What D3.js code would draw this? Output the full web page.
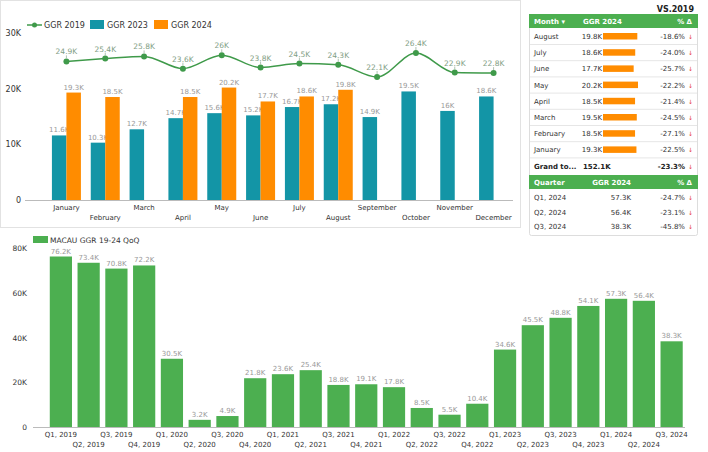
<!DOCTYPE html>
<html><head><meta charset="utf-8">
<script src="https://cdn.jsdelivr.net/npm/d3@7"></script>
<style>body{margin:0;background:#fff;font-family:"DejaVu Sans",Verdana,sans-serif;}</style>
</head><body><svg id="c" width="708" height="452"></svg>
<script>
const months = ["January","February","March","April","May","June","July","August","September","October","November","December"];
const ggr2019 = [24.9,25.4,25.8,23.6,26,23.8,24.5,24.3,22.1,26.4,22.9,22.8];
const ggr2023 = [11.6,10.3,12.7,14.7,15.6,15.2,16.7,17.2,14.9,19.5,16,18.6];
const ggr2024 = [19.3,18.5,null,18.5,20.2,17.7,18.6,19.8,null,null,null,null];
const topTicks = [0,10,20,30];

const tableMonths = ["August","July","June","May","April","March","February","January"];
const tableGGR = [19.8,18.6,17.7,20.2,18.5,19.5,18.5,19.3];
const tablePct = ["-18.6%","-24.0%","-25.7%","-22.2%","-21.4%","-24.5%","-27.1%","-22.5%"];
const grandTotal = ["Grand to...","152.1K","-23.3%"];
const quarterRows = ["Q1, 2024","Q2, 2024","Q3, 2024"];
const quarterGGR = ["57.3K","56.4K","38.3K"];
const quarterPct = ["-24.7%","-23.1%","-45.8%"];

const quarters = ["Q1, 2019","Q2, 2019","Q3, 2019","Q4, 2019","Q1, 2020","Q2, 2020","Q3, 2020","Q4, 2020","Q1, 2021","Q2, 2021","Q3, 2021","Q4, 2021","Q1, 2022","Q2, 2022","Q3, 2022","Q4, 2022","Q1, 2023","Q2, 2023","Q3, 2023","Q4, 2023","Q1, 2024","Q2, 2024","Q3, 2024"];
const qValues = [76.2,73.4,70.8,72.2,30.5,3.2,4.9,21.8,23.6,25.4,18.8,19.1,17.8,8.5,5.5,10.4,34.6,45.5,48.8,54.1,57.3,56.4,38.3];
const bottomTicks = [0,20,40,60,80];

const C19 = "#3f9a4a", C23 = "#1395a6", C24 = "#ff8c00", GREEN = "#4caf50";
const fmtK = v => (Math.round(v*10)/10) + "K";
const svg = d3.select("#c");
const F = '"DejaVu Sans",Verdana,sans-serif';

// Top panel frame
svg.append("rect").attr("x",0.5).attr("y",0.5).attr("width",520).attr("height",227).attr("fill","#fff").attr("stroke","#e2e2e2");

// ---- Top chart
const x = d3.scaleBand().domain(months).range([47,513]).paddingInner(0.25).paddingOuter(0.125);
const y = d3.scaleLinear().domain([0,30]).range([200,33]);
const bw = 14.5;
const topG = svg.append("g");
topG.selectAll(".yt").data(topTicks).join("text")
  .attr("x",21).attr("y",d=>y(d)+3).attr("text-anchor","end")
  .attr("font-size",8).attr("fill","#333").attr("font-family",F).text(d=>d===0?"0":d+"K");
topG.append("line").attr("x1",25).attr("x2",513).attr("y1",y(0)+0.5).attr("y2",y(0)+0.5).attr("stroke","#bbb");
const cx = m => x(m)+x.bandwidth()/2;
topG.selectAll(".b23").data(months).join("rect")
  .attr("x",(m)=>cx(m)-bw).attr("width",bw)
  .attr("y",(m,i)=>y(ggr2023[i])).attr("height",(m,i)=>y(0)-y(ggr2023[i])).attr("fill",C23);
topG.selectAll(".l23").data(months).join("text")
  .attr("x",m=>cx(m)-bw/2).attr("y",(m,i)=>y(ggr2023[i])-3).attr("text-anchor","middle")
  .attr("font-size",7).attr("fill","#999").attr("font-family",F).text((m,i)=>fmtK(ggr2023[i]));
const m24 = months.filter((m,i)=>ggr2024[i]!=null);
topG.selectAll(".b24").data(m24).join("rect")
  .attr("x",m=>cx(m)).attr("width",bw)
  .attr("y",m=>y(ggr2024[months.indexOf(m)])).attr("height",m=>y(0)-y(ggr2024[months.indexOf(m)])).attr("fill",C24);
topG.selectAll(".l24").data(m24).join("text")
  .attr("x",m=>cx(m)+bw/2).attr("y",m=>y(ggr2024[months.indexOf(m)])-3).attr("text-anchor","middle")
  .attr("font-size",7).attr("fill","#999").attr("font-family",F).text(m=>fmtK(ggr2024[months.indexOf(m)]));
const line = d3.line().x((d,i)=>cx(months[i])).y(d=>y(d)).curve(d3.curveMonotoneX);
topG.append("path").attr("d",line(ggr2019)).attr("fill","none").attr("stroke",C19).attr("stroke-width",1.5);
topG.selectAll(".p19").data(ggr2019).join("circle")
  .attr("cx",(d,i)=>cx(months[i])).attr("cy",d=>y(d)).attr("r",3).attr("fill",C19);
topG.selectAll(".t19").data(ggr2019).join("line")
  .attr("x1",(d,i)=>cx(months[i])).attr("x2",(d,i)=>cx(months[i]))
  .attr("y1",d=>y(d)-3).attr("y2",d=>y(d)-6).attr("stroke","#9bb59e").attr("stroke-width",0.8);
topG.selectAll(".lt19").data(ggr2019).join("text")
  .attr("x",(d,i)=>cx(months[i])).attr("y",d=>y(d)-7).attr("text-anchor","middle")
  .attr("font-size",7.5).attr("fill","#7f9e84").attr("font-family",F).text(d=>fmtK(d));
topG.selectAll(".mx").data(months).join("text")
  .attr("x",m=>cx(m)).attr("y",(m,i)=>i%2===0?210:220).attr("text-anchor","middle")
  .attr("font-size",7).attr("fill","#333").attr("font-family",F).text(m=>m);
const lg = topG.append("g");
lg.append("line").attr("x1",27).attr("x2",42).attr("y1",25).attr("y2",25).attr("stroke",C19).attr("stroke-width",1.5);
lg.append("circle").attr("cx",34.5).attr("cy",25).attr("r",2.5).attr("fill",C19);
lg.append("text").attr("x",44).attr("y",28).attr("font-size",8).attr("fill","#333").attr("font-family",F).text("GGR 2019");
lg.append("rect").attr("x",90).attr("y",20).attr("width",14).attr("height",9).attr("fill",C23);
lg.append("text").attr("x",107).attr("y",28).attr("font-size",8).attr("fill","#333").attr("font-family",F).text("GGR 2023");
lg.append("rect").attr("x",154).attr("y",20).attr("width",14).attr("height",9).attr("fill",C24);
lg.append("text").attr("x",171).attr("y",28).attr("font-size",8).attr("fill","#333").attr("font-family",F).text("GGR 2024");

// ---- Table
const tb = svg.append("g");
tb.append("text").attr("x",694).attr("y",12).attr("text-anchor","end").attr("font-size",8).attr("font-weight","bold").attr("fill","#222").attr("font-family",F).text("VS.2019");
tb.append("rect").attr("x",529.5).attr("y",14.5).attr("width",168).attr("height",221).attr("fill","#fff").attr("stroke","#ddd").attr("rx",2);
tb.append("rect").attr("x",529).attr("y",14).attr("width",169).attr("height",14).attr("fill",GREEN);
tb.append("text").attr("x",534).attr("y",24).attr("font-size",7).attr("font-weight","bold").attr("fill","#fff").attr("font-family",F).text("Month  \u25BE");
tb.append("text").attr("x",583).attr("y",24).attr("font-size",7).attr("font-weight","bold").attr("fill","#fff").attr("font-family",F).text("GGR 2024");
tb.append("text").attr("x",692).attr("y",24).attr("text-anchor","end").attr("font-size",7).attr("font-weight","bold").attr("fill","#fff").attr("font-family",F).text("% \u0394");
const bwScale = d3.scaleLinear().domain([0,20.2]).range([0,35]);
tableMonths.forEach((m,i)=>{
  const ry = 28 + i*16.2;
  tb.append("line").attr("x1",530).attr("x2",697).attr("y1",ry+16.5).attr("y2",ry+16.5).attr("stroke","#e6e6e6");
  tb.append("text").attr("x",534).attr("y",ry+11).attr("font-size",7).attr("fill","#333").attr("font-family",F).text(m);
  tb.append("text").attr("x",602).attr("y",ry+11).attr("text-anchor","end").attr("font-size",7).attr("fill","#333").attr("font-family",F).text(fmtK(tableGGR[i]));
  tb.append("rect").attr("x",603).attr("y",ry+5).attr("width",bwScale(tableGGR[i])).attr("height",6.5).attr("fill",C24);
  tb.append("text").attr("x",685).attr("y",ry+11).attr("text-anchor","end").attr("font-size",7).attr("fill","#333").attr("font-family",F).text(tablePct[i]);
  tb.append("text").attr("x",688).attr("y",ry+11).attr("font-size",6).attr("fill","#e53935").attr("font-family",F).text("\u2193");
});
const gy = 28 + 8*16.2;
tb.append("text").attr("x",534).attr("y",gy+11).attr("font-size",7).attr("font-weight","bold").attr("fill","#222").attr("font-family",F).text(grandTotal[0]);
tb.append("text").attr("x",583).attr("y",gy+11).attr("font-size",7).attr("font-weight","bold").attr("fill","#222").attr("font-family",F).text(grandTotal[1]);
tb.append("text").attr("x",685).attr("y",gy+11).attr("text-anchor","end").attr("font-size",7).attr("font-weight","bold").attr("fill","#222").attr("font-family",F).text(grandTotal[2]);
tb.append("text").attr("x",688).attr("y",gy+11).attr("font-size",6).attr("fill","#e53935").attr("font-family",F).text("\u2193");
tb.append("rect").attr("x",529).attr("y",175).attr("width",169).attr("height",14).attr("fill",GREEN);
tb.append("text").attr("x",534).attr("y",185).attr("font-size",7).attr("font-weight","bold").attr("fill","#fff").attr("font-family",F).text("Quarter");
tb.append("text").attr("x",631).attr("y",185).attr("text-anchor","end").attr("font-size",7).attr("font-weight","bold").attr("fill","#fff").attr("font-family",F).text("GGR 2024");
tb.append("text").attr("x",692).attr("y",185).attr("text-anchor","end").attr("font-size",7).attr("font-weight","bold").attr("fill","#fff").attr("font-family",F).text("% \u0394");
quarterRows.forEach((q,i)=>{
  const ry = 189 + i*14.5;
  tb.append("text").attr("x",534).attr("y",ry+11).attr("font-size",7).attr("fill","#333").attr("font-family",F).text(q);
  tb.append("text").attr("x",631).attr("y",ry+11).attr("text-anchor","end").attr("font-size",7).attr("fill","#333").attr("font-family",F).text(quarterGGR[i]);
  tb.append("text").attr("x",685).attr("y",ry+11).attr("text-anchor","end").attr("font-size",7).attr("fill","#333").attr("font-family",F).text(quarterPct[i]);
  tb.append("text").attr("x",688).attr("y",ry+11).attr("font-size",6).attr("fill","#e53935").attr("font-family",F).text("\u2193");
});

// ---- Bottom chart
const bx = d3.scaleBand().domain(quarters).range([47,685.5]).paddingInner(0.2).paddingOuter(0.1);
const by = d3.scaleLinear().domain([0,80]).range([427,248]);
const bot = svg.append("g");
bot.selectAll(".yt").data(bottomTicks).join("text")
  .attr("x",27).attr("y",d=>by(d)+3).attr("text-anchor","end")
  .attr("font-size",7.5).attr("fill","#333").attr("font-family",F).text(d=>d===0?"0":d+"K");
bot.append("line").attr("x1",33).attr("x2",685).attr("y1",by(0)+0.5).attr("y2",by(0)+0.5).attr("stroke","#bbb");
bot.selectAll(".qb").data(quarters).join("rect")
  .attr("x",q=>bx(q)).attr("width",bx.bandwidth())
  .attr("y",(q,i)=>by(qValues[i])).attr("height",(q,i)=>by(0)-by(qValues[i])).attr("fill",GREEN);
bot.selectAll(".ql").data(quarters).join("text")
  .attr("x",q=>bx(q)+bx.bandwidth()/2).attr("y",(q,i)=>by(qValues[i])-3).attr("text-anchor","middle")
  .attr("font-size",7).attr("fill","#999").attr("font-family",F).text((q,i)=>fmtK(qValues[i]));
bot.selectAll(".qx").data(quarters).join("text")
  .attr("x",q=>bx(q)+bx.bandwidth()/2).attr("y",(q,i)=>i%2===0?437:447).attr("text-anchor","middle")
  .attr("font-size",7).attr("fill","#333").attr("font-family",F).text(q=>q);
bot.append("rect").attr("x",33).attr("y",236).attr("width",15).attr("height",7).attr("fill",GREEN);
bot.append("text").attr("x",50).attr("y",243).attr("font-size",7.5).attr("fill","#333").attr("font-family",F).text("MACAU GGR 19-24 QoQ");
</script></body></html>
